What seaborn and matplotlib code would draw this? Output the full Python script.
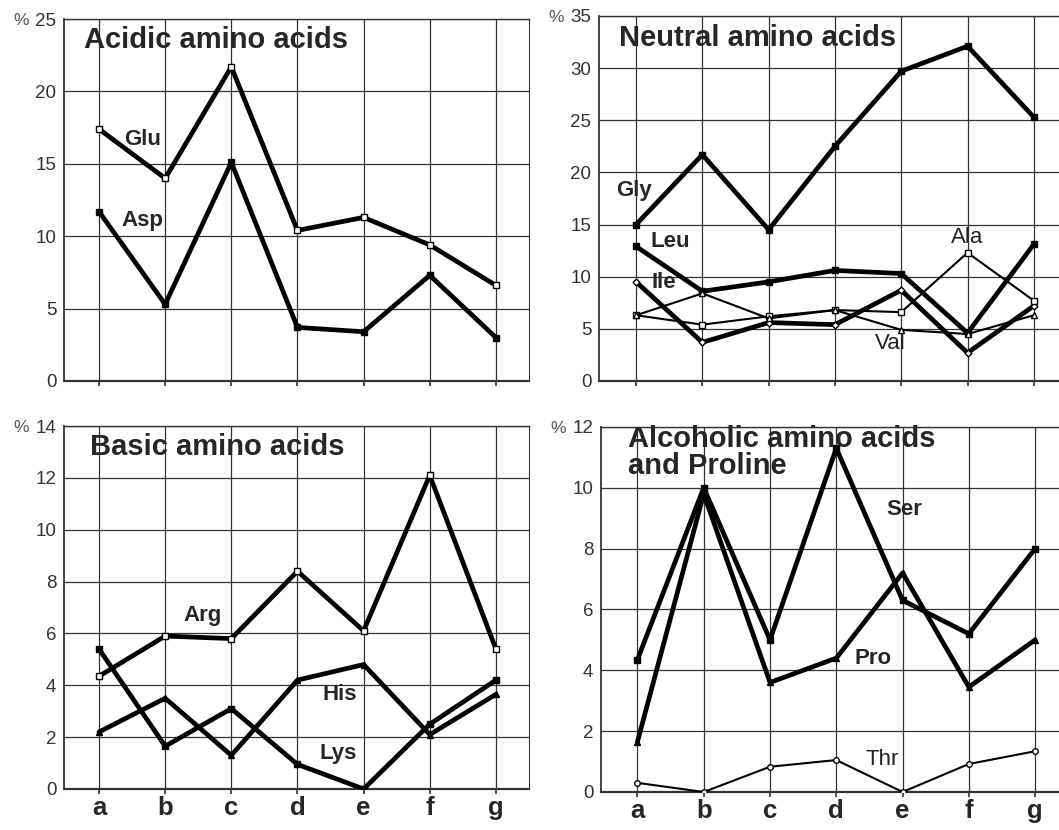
import matplotlib
matplotlib.use('Agg')
import matplotlib.pyplot as plt
import seaborn as sns

# ---------------- data ----------------
categories = ['a', 'b', 'c', 'd', 'e', 'f', 'g']

# Acidic amino acids (%)
glu = [17.4, 14.0, 21.7, 10.4, 11.3, 9.4, 6.6]
asp = [11.7, 5.3, 15.1, 3.7, 3.4, 7.3, 3.0]

# Neutral amino acids (%)
gly = [15.0, 21.7, 14.5, 22.5, 29.7, 32.1, 25.3]
leu = [12.9, 8.6, 9.5, 10.6, 10.3, 4.6, 13.1]
ile = [9.5, 3.7, 5.6, 5.4, 8.7, 2.7, 7.2]
ala = [6.3, 5.4, 6.2, 6.8, 6.6, 12.3, 7.7]
val = [6.3, 8.4, 6.0, 6.8, 4.9, 4.5, 6.3]

# Basic amino acids (%)
arg = [4.35, 5.9, 5.8, 8.4, 6.1, 12.1, 5.4]
lys = [5.4, 1.65, 3.1, 0.95, 0.0, 2.5, 4.2]
his = [2.2, 3.5, 1.3, 4.2, 4.8, 2.1, 3.65]

# Alcoholic amino acids and proline (%)
ser = [4.35, 10.0, 5.0, 11.3, 6.3, 5.2, 8.0]
pro = [1.65, 9.8, 3.6, 4.4, 7.2, 3.45, 5.0]
thr = [0.3, 0.0, 0.83, 1.05, 0.0, 0.92, 1.34]

panel_titles = ['Acidic amino acids', 'Neutral amino acids',
                'Basic amino acids', 'Alcoholic amino acids\nand Proline']

# ---------------- style ----------------
sns.set_style('white')
plt.rcParams['font.family'] = ['Liberation Sans', 'DejaVu Sans']

GRID = '#333333'
THICK = 3.4
THIN = 1.5
TITLE_FS = 21
LABEL_FS = 16

fig = plt.figure(figsize=(10.59, 8.30), dpi=100)
ax_tl = fig.add_axes([0.0604, 0.541, 0.4391, 0.436])
ax_tr = fig.add_axes([0.5656, 0.541, 0.4344, 0.4398])
ax_bl = fig.add_axes([0.0604, 0.0494, 0.4391, 0.4373])
ax_br = fig.add_axes([0.5675, 0.0458, 0.4325, 0.4398])


def draw(ax, values, marker, filled, lw, ms):
    sns.lineplot(x=categories, y=values, ax=ax, color='black', lw=lw,
                 marker=marker, markersize=ms,
                 markerfacecolor='black' if filled else 'white',
                 markeredgecolor='black', markeredgewidth=1.0,
                 sort=False, legend=False, zorder=3)


def setup(ax, ymax, step, xlim, show_xlabels, right_spine):
    ax.set_ylim(0, ymax)
    ax.set_yticks(list(range(0, ymax + 1, step)))
    ax.set_xlim(*xlim)
    ax.grid(True, color=GRID, lw=0.9)
    ax.set_axisbelow(True)
    for s in ['left', 'top', 'bottom']:
        ax.spines[s].set_color(GRID)
        ax.spines[s].set_linewidth(1.0)
    ax.spines['bottom'].set_linewidth(1.6)
    ax.spines['left'].set_linewidth(1.3)
    ax.spines['right'].set_visible(right_spine)
    ax.spines['right'].set_color(GRID)
    ax.tick_params(axis='y', length=2.5, width=0.9, pad=3, labelsize=13.5,
                   labelcolor='#333333', color=GRID)
    ax.tick_params(axis='x', length=3.5, width=1.2, pad=1.5, labelsize=18.5,
                   direction='out', color=GRID, bottom=True)
    for lab in ax.get_xticklabels():
        lab.set_fontweight('bold')
    if not show_xlabels:
        ax.tick_params(axis='x', labelbottom=False)
    ax.set_xlabel('')
    ax.set_ylabel('')
    ax.annotate('%', xy=(0, 1), xycoords='axes fraction', xytext=(-25, -1),
                textcoords='offset points', ha='right', va='center',
                fontsize=12.5, color='#555555')


# ---- Acidic ----
draw(ax_tl, glu, 's', False, THICK, 4)
draw(ax_tl, asp, 's', True, THICK, 5)
setup(ax_tl, 25, 5, (-0.53, 6.5), False, True)
ax_tl.text(0.043, 0.942, panel_titles[0], transform=ax_tl.transAxes,
           fontsize=TITLE_FS, fontweight='bold', va='center', ha='left')
ax_tl.text(0.66, 16.7, 'Glu', fontsize=LABEL_FS, fontweight='bold', ha='center', va='center')
ax_tl.text(0.65, 11.1, 'Asp', fontsize=LABEL_FS, fontweight='bold', ha='center', va='center')

# ---- Neutral ----
draw(ax_tr, gly, 's', True, THICK, 4)
draw(ax_tr, leu, 's', True, THICK, 5)
draw(ax_tr, ile, 'D', False, THICK, 3.5)
draw(ax_tr, ala, 's', False, THIN, 4)
draw(ax_tr, val, '^', False, THIN, 4)
setup(ax_tr, 35, 5, (-0.56, 6.38), False, False)
ax_tr.text(0.043, 0.94, panel_titles[1], transform=ax_tr.transAxes,
           fontsize=TITLE_FS, fontweight='bold', va='center', ha='left')
ax_tr.text(-0.03, 18.3, 'Gly', fontsize=LABEL_FS, fontweight='bold', ha='center', va='center')
ax_tr.text(0.51, 13.4, 'Leu', fontsize=LABEL_FS, fontweight='bold', ha='center', va='center')
ax_tr.text(0.42, 9.4, 'Ile', fontsize=LABEL_FS, fontweight='bold', ha='center', va='center')
ax_tr.text(5.0, 13.8, 'Ala', fontsize=LABEL_FS, ha='center', va='center', color='#222222')
ax_tr.text(3.83, 3.55, 'Val', fontsize=LABEL_FS, ha='center', va='center', color='#222222')

# ---- Basic ----
draw(ax_bl, arg, 's', False, THICK, 4)
draw(ax_bl, lys, 's', True, THICK, 5)
draw(ax_bl, his, '^', True, THICK, 4.5)
setup(ax_bl, 14, 2, (-0.53, 6.5), True, True)
ax_bl.text(0.055, 0.942, panel_titles[2], transform=ax_bl.transAxes,
           fontsize=TITLE_FS, fontweight='bold', va='center', ha='left')
ax_bl.text(1.57, 6.7, 'Arg', fontsize=LABEL_FS, fontweight='bold', ha='center', va='center')
ax_bl.text(3.64, 3.65, 'His', fontsize=LABEL_FS, fontweight='bold', ha='center', va='center')
ax_bl.text(3.61, 1.35, 'Lys', fontsize=LABEL_FS, fontweight='bold', ha='center', va='center')

# ---- Alcoholic + proline ----
draw(ax_br, ser, 's', True, THICK, 5)
draw(ax_br, pro, '^', True, THICK, 4.5)
draw(ax_br, thr, 'o', False, THIN, 4)
setup(ax_br, 12, 2, (-0.55, 6.36), True, False)
ax_br.text(0.058, 1.006, panel_titles[3], transform=ax_br.transAxes,
           fontsize=TITLE_FS, fontweight='bold', va='top', ha='left', linespacing=0.95)
ax_br.text(4.02, 9.3, 'Ser', fontsize=LABEL_FS, fontweight='bold', ha='center', va='center')
ax_br.text(3.55, 4.4, 'Pro', fontsize=LABEL_FS, fontweight='bold', ha='center', va='center')
ax_br.text(3.69, 1.08, 'Thr', fontsize=LABEL_FS, ha='center', va='center', color='#222222')

fig.savefig('out.png', dpi=100)
